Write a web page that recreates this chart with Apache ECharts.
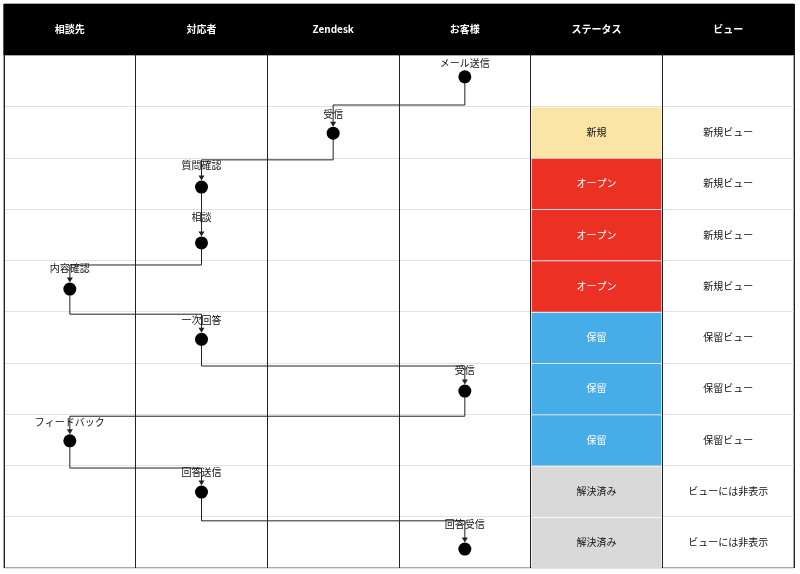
<!DOCTYPE html>
<html><head><meta charset="utf-8">
<script src="https://cdn.jsdelivr.net/npm/echarts@6/dist/echarts.min.js"></script>
<style>html,body{margin:0;padding:0;background:#fff}#c{width:800px;height:574px}</style>
</head><body><div id="c"></div>
<script>
// ---- data ----
const lanes = ['相談先','対応者','Zendesk','お客様','ステータス','ビュー'];
const stepNames = ['メール送信','受信','質問確認','相談','内容確認','一次回答','受信','フィードバック','回答送信','回答受信'];
const stepLanes = [3,2,1,1,0,1,3,0,1,3];
const stepRows = [0.42,1.52,2.57,3.66,4.56,5.54,6.55,7.52,8.52,9.63];
const labelRows = [0.16,1.15,2.15,3.16,4.16,5.16,6.15,7.16,8.14,9.14];
const bendRows = [0.97,2.04,3.0,4.09,5.05,6.06,7.04,8.05,9.08];
const statusLabels = ['','新規','オープン','オープン','オープン','保留','保留','保留','解決済み','解決済み'];
const viewLabels = ['','新規ビュー','新規ビュー','新規ビュー','新規ビュー','保留ビュー','保留ビュー','保留ビュー','ビューには非表示','ビューには非表示'];
const statusColors = {'新規':'#FBE5A6','オープン':'#EC3023','保留':'#47ADE8','解決済み':'#D9D9D9'};
const statusTextColors = {'新規':'#111','オープン':'#fff','保留':'#fff','解決済み':'#111'};

const FONT = '"Noto Sans CJK JP", "Noto Sans", sans-serif';

// build cell list
const cells = [];
lanes.forEach((l, i) => cells.push({c: i, r: -1, text: l, fill: '#000', color: '#fff', kind: 'head'}));
statusLabels.forEach((s, r) => { if (s) cells.push({c: 4, r: r, text: s, fill: statusColors[s], color: statusTextColors[s], kind: 'status'}); });
viewLabels.forEach((s, r) => { if (s) cells.push({c: 5, r: r, text: s, fill: null, color: '#111', kind: 'view'}); });

const links = [];
for (let i = 0; i < stepNames.length - 1; i++) links.push([i, 0]);

const chart = echarts.init(document.getElementById('c'), null, {renderer: 'canvas'});
chart.setOption({
  animation: false,
  backgroundColor: '#fff',
  textStyle: {fontFamily: FONT},
  grid: {left: 4, right: 6, top: 4, bottom: 6, show: true, borderColor: '#555', borderWidth: 1, containLabel: false},
  xAxis: {type: 'value', min: 0, max: 6, interval: 1,
    axisLabel: {show: false}, axisTick: {show: false}, axisLine: {show: false},
    splitLine: {show: true, lineStyle: {color: '#222', width: 1}}},
  yAxis: {type: 'value', min: -1, max: 10, interval: 1, inverse: true,
    axisLabel: {show: false}, axisTick: {show: false}, axisLine: {show: false},
    splitLine: {show: true, lineStyle: {color: '#e2e2e2', width: 1}}},
  series: [
    {
      type: 'custom', z: 2, silent: true,
      data: cells.map(d => [d.c, d.r]),
      renderItem: function (params, api) {
        const d = cells[params.dataIndex];
        const p0 = api.coord([d.c, d.r]);
        const p1 = api.coord([d.c + 1, d.r + 1]);
        const children = [];
        if (d.fill) {
          if (d.kind === 'head') {
            children.push({type: 'rect', shape: {x: p0[0] - 0.5, y: p0[1], width: p1[0] - p0[0] + 1, height: p1[1] - p0[1]}, style: {fill: d.fill}});
          } else {
            children.push({type: 'rect', shape: {x: p0[0] + 1, y: p0[1] + 1, width: p1[0] - p0[0] - 2, height: p1[1] - p0[1] - 1}, style: {fill: d.fill}});
          }
        }
        const weight = d.kind === 'head' ? 'bold ' : '';
        children.push({type: 'text', style: {text: d.text, x: (p0[0] + p1[0]) / 2, y: (p0[1] + p1[1]) / 2,
          align: 'center', verticalAlign: 'middle', fill: d.color, font: weight + '10px ' + FONT}});
        return {type: 'group', children: children};
      }
    },
    {
      type: 'custom', z: 3, silent: true,
      data: links,
      renderItem: function (params, api) {
        const i = params.dataIndex;
        const pa = api.coord([stepLanes[i] + 0.5, stepRows[i]]);
        const pb = api.coord([stepLanes[i + 1] + 0.5, stepRows[i + 1]]);
        const yb = api.coord([0, bendRows[i]])[1];
        const tipY = pb[1] - 6.5;
        const ah = 5, aw = 3;
        return {type: 'group', children: [
          {type: 'polyline', shape: {points: [[pa[0], pa[1]], [pa[0], yb], [pb[0], yb], [pb[0], tipY - ah + 0.5]]},
            style: {stroke: '#222', lineWidth: 1, fill: null}},
          {type: 'polygon', shape: {points: [[pb[0] - aw, tipY - ah], [pb[0] + aw, tipY - ah], [pb[0], tipY]]},
            style: {fill: '#222'}}
        ]};
      }
    },
    {
      type: 'scatter', z: 5, silent: true,
      symbol: 'circle', symbolSize: 13,
      itemStyle: {color: '#000', opacity: 1},
      data: stepLanes.map((l, i) => [l + 0.5, stepRows[i]])
    },
    {
      type: 'custom', z: 6, silent: true,
      data: stepLanes.map((l, i) => [l + 0.5, labelRows[i]]),
      renderItem: function (params, api) {
        const p = api.coord([api.value(0), api.value(1)]);
        return {type: 'text', style: {text: stepNames[params.dataIndex], x: p[0], y: p[1],
          align: 'center', verticalAlign: 'middle', fill: '#111', font: '10px ' + FONT}};
      }
    }
  ]
});
</script>
</body></html>
